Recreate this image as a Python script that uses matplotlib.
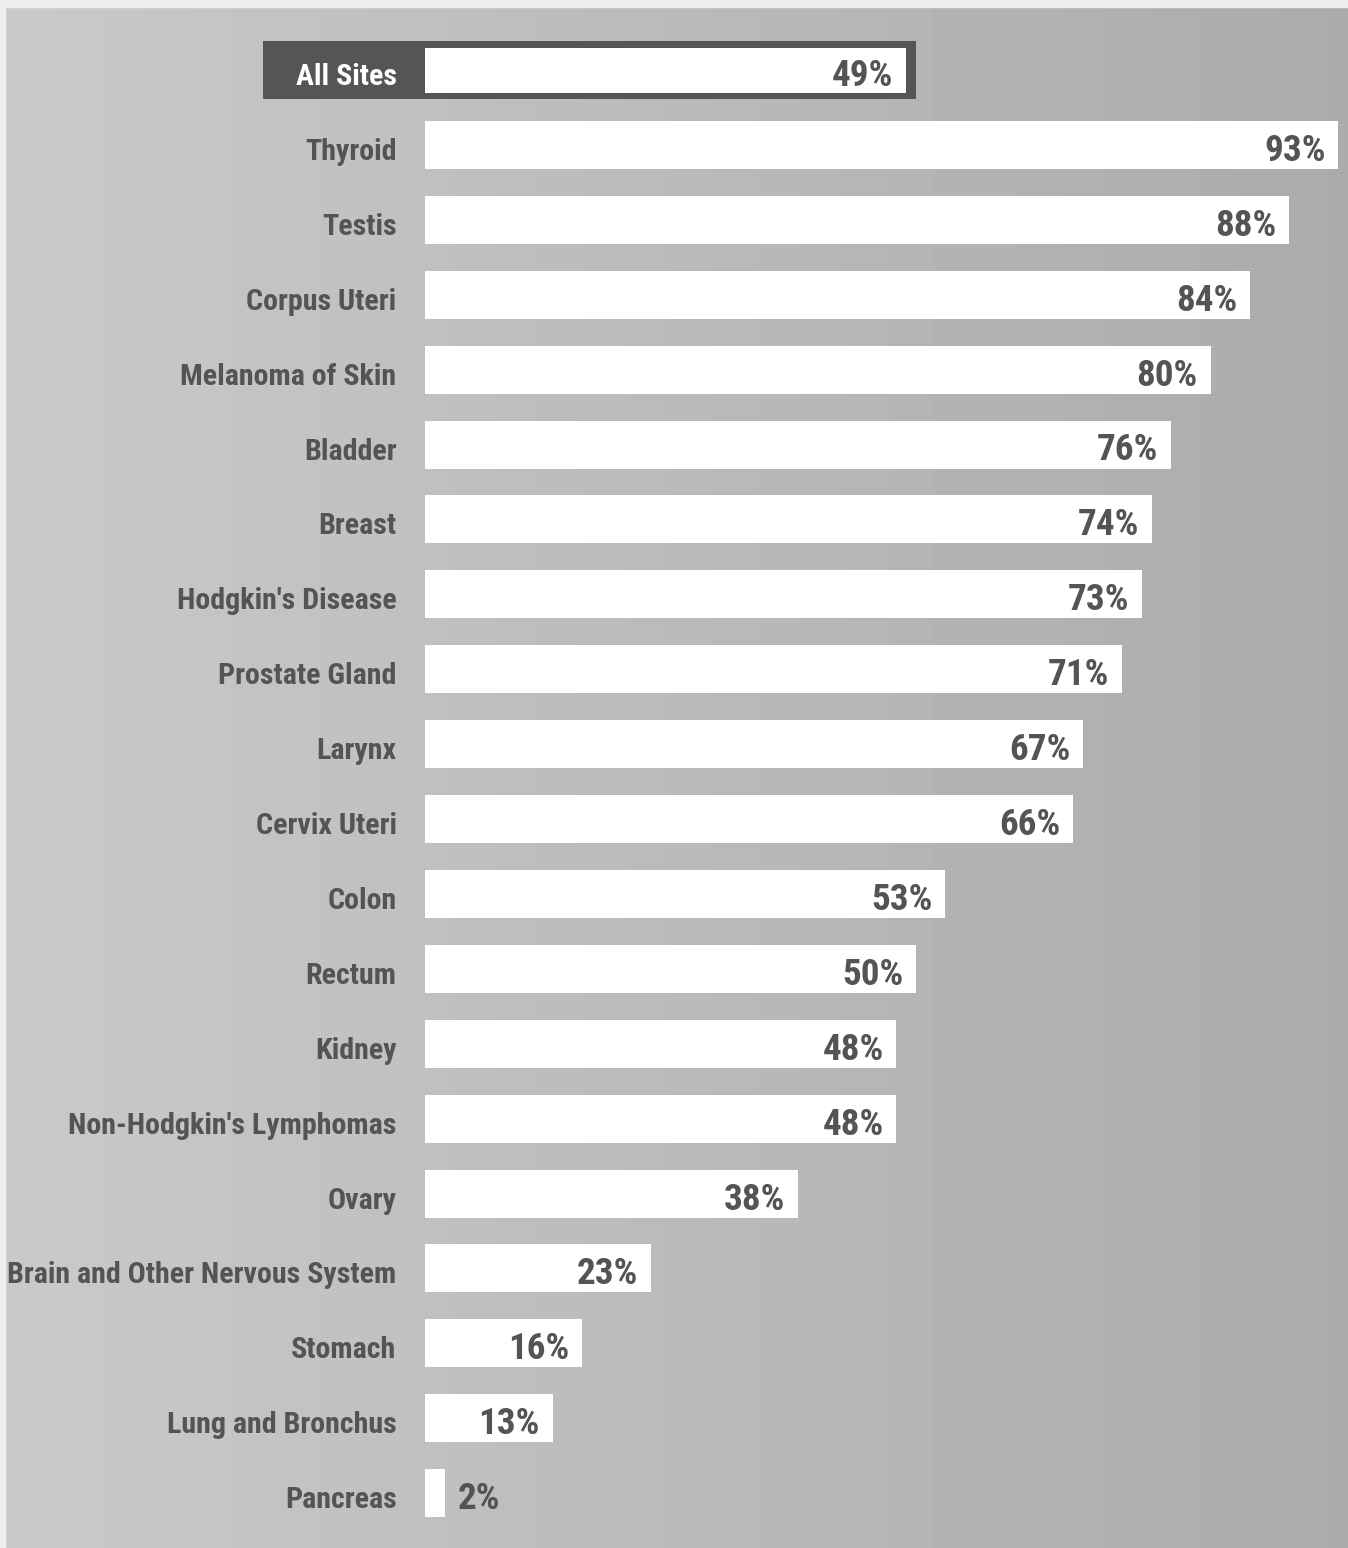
import numpy as np
import matplotlib
matplotlib.use('Agg')
import matplotlib.pyplot as plt
from matplotlib import font_manager
from matplotlib.textpath import TextPath
from matplotlib.font_manager import FontProperties

sites = ['All Sites', 'Thyroid', 'Testis', 'Corpus Uteri', 'Melanoma of Skin',
         'Bladder', 'Breast', "Hodgkin's Disease", 'Prostate Gland', 'Larynx',
         'Cervix Uteri', 'Colon', 'Rectum', 'Kidney', "Non-Hodgkin's Lymphomas",
         'Ovary', 'Brain and Other Nervous System', 'Stomach',
         'Lung and Bronchus', 'Pancreas']
survival = [49, 93, 88, 84, 80, 76, 74, 73, 71, 67, 66, 53, 50, 48, 48, 38, 23, 16, 13, 2]

# a narrow bold face, like the old typeset chart
names = {f.name for f in font_manager.fontManager.ttflist}
FAM = 'DejaVu Sans'
for cand in ['Roboto Condensed', 'Archivo Narrow', 'Barlow Semi Condensed',
             'Liberation Sans Narrow']:
    if cand in names:
        FAM = cand
        break
STRETCH = 'condensed' if FAM == 'DejaVu Sans' else 'normal'


def fit_size(s, width_px, weight='bold'):
    # font size (pt) so that string s is width_px wide at dpi 100
    fp = FontProperties(family=FAM, weight=weight, stretch=STRETCH, size=20)
    w = TextPath((0, 0), s, prop=fp).get_extents().width  # in points
    return 20 * width_px / (w * 100 / 72)


lab_size = fit_size('Brain and Other Nervous System', 386)
pct_size = fit_size('93%', 58, 'semibold')

W, H = 1348, 1548
px_per = 9.82          # pixels per percent
x0 = 425               # pixel where bars start
row0, row_step = 70, 74.9

fig = plt.figure(figsize=(W / 100, H / 100), dpi=100)
ax = fig.add_axes([0, 0, 1, 1])
xmin, xmax = -x0 / px_per, (W - x0) / px_per
ymin, ymax = -row0 / row_step, (H - row0) / row_step
ax.set_xlim(xmin, xmax)
ax.set_ylim(ymax, ymin)
ax.axis('off')

# scanned gray paper, a bit lighter on the left
grad = np.linspace(0.79, 0.67, 256)[None, :]
ax.imshow(grad, extent=[xmin, xmax, ymax, ymin], cmap='gray', vmin=0, vmax=1,
          aspect='auto', zorder=0)
# white scan margins
ax.axhspan(ymin, ymin + 7 / row_step, color='#eeeeee', zorder=1)
ax.axvspan(xmin, xmin + 5 / px_per, color='#eeeeee', zorder=1)

txt = '#545454'
y = np.arange(len(sites))
bh = 48 / row_step
dy = 4 / row_step   # text sits a touch low in the original

# dark frame round the All Sites bar
ax.barh(y[0], survival[0] + 1.0 + 16.5, left=-16.5, height=58 / row_step,
        color='#555555', zorder=2)
ax.barh(y[0], survival[0], height=45 / row_step, color='white', zorder=3)
ax.barh(y[1:], survival[1:], height=bh, color='white', zorder=3)

for i, (s, v) in enumerate(zip(sites, survival)):
    col = 'white' if i == 0 else txt
    ax.text(-2.9, y[i] + dy, s, ha='right', va='center_baseline', fontsize=lab_size,
            fontweight='bold', family=FAM, fontstretch=STRETCH, color=col, zorder=4)
    lab = '%d%%' % v
    if v < 5:
        ax.text(v + 1.3, y[i] + dy * 0.5, lab, ha='left', va='center_baseline',
                fontsize=pct_size, fontweight='semibold', family=FAM,
                fontstretch=STRETCH, color=txt, zorder=4)
    else:
        ax.text(v - 1.3, y[i] + dy * 0.5, lab, ha='right', va='center_baseline',
                fontsize=pct_size, fontweight='semibold', family=FAM,
                fontstretch=STRETCH, color=txt, zorder=4)

fig.savefig('out.png', dpi=100)
